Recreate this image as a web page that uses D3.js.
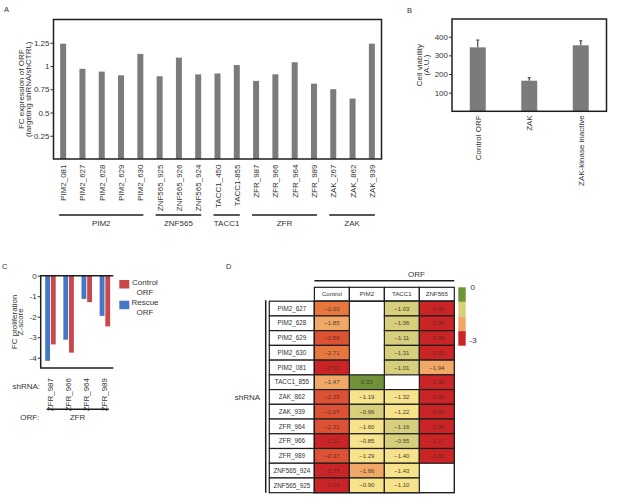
<!DOCTYPE html>
<html><head><meta charset="utf-8">
<script src="https://cdn.jsdelivr.net/npm/d3@7"></script>
<style>body{margin:0;background:#fff} svg{display:block;font-family:"Liberation Sans",Arial,sans-serif}</style>
</head><body><svg id="c" width="617" height="504"></svg>
<script>
// ---------- Panel A data ----------
const aLabels = ["PIM2_081","PIM2_627","PIM2_628","PIM2_629","PIM2_630","ZNF565_925","ZNF565_926","ZNF565_924","TACC1_450","TACC1-855","ZFR_987","ZFR_966","ZFR_964","ZFR_989","ZAK_267","ZAK_862","ZAK_939"];
const aValues = [1.24,0.97,0.94,0.90,1.13,0.89,1.09,0.91,0.92,1.01,0.84,0.91,1.04,0.81,0.75,0.65,1.24];
const aTicks = [0.25,0.5,0.75,1,1.25];
// ---------- Panel B data ----------
const bLabels = ["Control ORF","ZAK","ZAK-kinase inactive"];
const bValues = [343,164,354];
const bUpper = [382,180,378];
const bTicks = [100,200,300,400];
// ---------- Panel C data ----------
const cLabels = ["ZFR_987","ZFR_966","ZFR_964","ZFR_989"];
const cRescue = [-4.15,-3.12,-1.13,-1.96];
const cControl = [-3.35,-3.75,-1.29,-2.47];
const cTicks = [0,-1,-2,-3,-4];
const cSeries = ["Rescue ORF","Control ORF"];
// ---------- Panel D data ----------
const dRows = ["PIM2_627","PIM2_628","PIM2_629","PIM2_630","PIM2_081","TACC1_855","ZAK_862","ZAK_939","ZFR_964","ZFR_966","ZFR_989","ZNF565_924","ZNF565_925"];
const dCols = ["Control","PIM2","TACC1","ZNF565"];
const dControl = [-2.00,-1.85,-2.59,-2.71,-2.92,-1.47,-2.35,-2.07,-2.31,-1.22,-2.37,-2.75,-2.69];
const dPIM2 = [null,null,null,null,null,0.33,-1.19,-0.96,-1.60,-0.85,-1.29,-1.66,-0.90];
const dTACC1 = [-1.03,-1.06,-1.11,-1.31,-1.01,null,-1.32,-1.22,-1.16,-0.55,-1.40,-1.43,-1.10];
const dZNF565 = [-2.45,-2.88,-2.98,-3.25,-1.94,-2.35,-3.06,-2.40,-2.88,-1.17,-2.82,null,null];
// colour level of each cell as it appears in the figure (0 = best ... 6 = worst)
const tControl = [4,3,5,4,6,3,5,5,5,6,5,6,6];
const tPIM2 = [null,null,null,null,null,0,2,1,2,2,2,3,2];
const tTACC1 = [1,1,1,1,1,null,2,2,1,1,2,2,2];
const tZNF565 = [6,6,6,6,3,6,6,6,6,6,6,null,null];
const legendLevels = [0,1,3,6];
const legendLabels = ["0","-3"];

const svg = d3.select("#c");
const ink = "#1e1e1e", txt = "#333";
const fs = 8;

function panelLetter(t,x,y){ svg.append("text").attr("x",x).attr("y",y).attr("font-size",7.5).attr("fill",txt).text(t); }

// ================= Panel A =================
panelLetter("A",4,12);
const A = {l:53.5, r:381.5, t:19.5, b:159};
const ax = d3.scaleBand().domain(aLabels).range([A.l,A.r]).paddingInner(0.69).paddingOuter(0.345);
const ay = d3.scaleLinear().domain([0,1.5]).range([A.b,A.t]);
const gA = svg.append("g");
gA.selectAll("rect.bar").data(aLabels).join("rect").attr("class","bar")
  .attr("x",d=>ax(d)).attr("width",ax.bandwidth())
  .attr("y",(d,i)=>ay(aValues[i])).attr("height",(d,i)=>ay(0)-ay(aValues[i]))
  .attr("fill","#7b7b7b");
const aAxis = gA.append("g").attr("transform",`translate(${A.l},0)`)
  .call(d3.axisLeft(ay).tickValues(aTicks).tickSize(3).tickPadding(1).tickFormat(d=>String(d)));
aAxis.select(".domain").remove();
aAxis.selectAll("text").attr("font-size",fs).attr("fill",txt).attr("font-family",null);
aAxis.selectAll("line").attr("stroke",txt);
gA.append("rect").attr("x",A.l).attr("y",A.t).attr("width",A.r-A.l).attr("height",A.b-A.t)
  .attr("fill","none").attr("stroke",ink).attr("stroke-width",1.5);
gA.selectAll("text.xl").data(aLabels).join("text").attr("class","xl")
  .attr("transform",d=>`translate(${ax(d)+ax.bandwidth()/2+3},${A.b+5.5}) rotate(-90)`)
  .attr("text-anchor","end").attr("font-size",fs).attr("fill",txt).text(d=>d);
const groupOf = d=>d.match(/^[A-Z0-9]+?(?=[_-])/)[0];
const aGroups = Array.from(d3.group(aLabels,groupOf), ([k,v])=>({k,v}));
aGroups.forEach(g=>{
  const x0 = ax(g.v[0])+ax.bandwidth()/2-4, x1 = ax(g.v[g.v.length-1])+ax.bandwidth()/2+3;
  gA.append("line").attr("x1",x0).attr("x2",x1).attr("y1",215).attr("y2",215).attr("stroke",ink).attr("stroke-width",1.5);
  gA.append("text").attr("x",(x0+x1)/2).attr("y",225.5).attr("text-anchor","middle").attr("font-size",fs).attr("fill",txt).text(g.k);
});
const aTitle = gA.append("text").attr("transform",`translate(0,${(A.t+A.b)/2}) rotate(-90)`).attr("text-anchor","middle").attr("font-size",fs).attr("fill",txt);
aTitle.append("tspan").attr("x",0).attr("y",23.5).text("FC expression of ORF");
aTitle.append("tspan").attr("x",0).attr("y",31).text("(targeting shRNA/shCTRL)");

// ================= Panel B =================
panelLetter("B",407,13);
const B = {l:452, r:606.5, t:19, b:111.3};
const bx = d3.scaleBand().domain(bLabels).range([B.l,B.r]).paddingInner(0.69).paddingOuter(0.345);
const by = d3.scaleLinear().domain([0,495]).range([B.b,B.t]);
const gB = svg.append("g");
gB.selectAll("rect.bar").data(bLabels).join("rect").attr("class","bar")
  .attr("x",d=>bx(d)).attr("width",bx.bandwidth())
  .attr("y",(d,i)=>by(bValues[i])).attr("height",(d,i)=>by(0)-by(bValues[i])).attr("fill","#7b7b7b");
gB.selectAll("line.err").data(bLabels).join("line").attr("class","err")
  .attr("x1",d=>bx(d)+bx.bandwidth()/2).attr("x2",d=>bx(d)+bx.bandwidth()/2)
  .attr("y1",(d,i)=>by(bValues[i])).attr("y2",(d,i)=>by(bUpper[i])).attr("stroke","#555").attr("stroke-width",1.3);
gB.selectAll("line.cap").data(bLabels).join("line").attr("class","cap")
  .attr("x1",d=>bx(d)+bx.bandwidth()/2-1.5).attr("x2",d=>bx(d)+bx.bandwidth()/2+1.5)
  .attr("y1",(d,i)=>by(bUpper[i])).attr("y2",(d,i)=>by(bUpper[i])).attr("stroke","#555").attr("stroke-width",1.3);
const bAxis = gB.append("g").attr("transform",`translate(${B.l},0)`)
  .call(d3.axisLeft(by).tickValues(bTicks).tickSize(3).tickPadding(1));
bAxis.select(".domain").remove();
bAxis.selectAll("text").attr("font-size",fs).attr("fill",txt).attr("font-family",null);
bAxis.selectAll("line").attr("stroke",txt);
gB.append("rect").attr("x",B.l).attr("y",B.t).attr("width",B.r-B.l).attr("height",B.b-B.t)
  .attr("fill","none").attr("stroke",ink).attr("stroke-width",1.5);
gB.selectAll("text.xl").data(bLabels).join("text").attr("class","xl")
  .attr("transform",d=>`translate(${bx(d)+bx.bandwidth()/2+3},${B.b+4}) rotate(-90)`)
  .attr("text-anchor","end").attr("font-size",fs).attr("fill",txt).text(d=>d);
const bTitle = gB.append("text").attr("transform",`translate(0,${(B.t+B.b)/2}) rotate(-90)`).attr("text-anchor","middle").attr("font-size",fs).attr("fill",txt);
bTitle.append("tspan").attr("x",0).attr("y",422).text("Cell viability");
bTitle.append("tspan").attr("x",0).attr("y",429).text("(A.U.)");

// ================= Panel C =================
panelLetter("C",2,269);
const C = {l:40.7, r:113.3, t:275.7, b:368};
const cx = d3.scaleBand().domain(cLabels).range([C.l,C.r]);
const cInner = d3.scaleBand().domain(cSeries).range([4.5,15]).paddingInner(0.15);
const cy = d3.scaleLinear().domain([-4.5,0]).range([C.b,C.t]);
const cColor = d3.scaleOrdinal().domain(cSeries).range(["#4677c4","#c9484b"]);
const cData = cLabels.flatMap((l,i)=>[{l,s:"Rescue ORF",v:cRescue[i]},{l,s:"Control ORF",v:cControl[i]}]);
const gC = svg.append("g");
gC.selectAll("rect.bar").data(cData).join("rect").attr("class","bar")
  .attr("x",d=>cx(d.l)+cInner(d.s)).attr("width",cInner.bandwidth())
  .attr("y",cy(0)).attr("height",d=>cy(d.v)-cy(0)).attr("fill",d=>cColor(d.s));
const cAxis = gC.append("g").attr("transform",`translate(${C.l},0)`)
  .call(d3.axisLeft(cy).tickValues(cTicks).tickSize(3).tickPadding(1).tickFormat(d=>String(d)));
cAxis.select(".domain").remove();
cAxis.selectAll("text").attr("font-size",fs).attr("fill",txt).attr("font-family",null);
cAxis.selectAll("line").attr("stroke",txt);
gC.append("path").attr("d",`M${C.r},${C.t}H${C.l}V${C.b}H${C.r}`).attr("fill","none").attr("stroke",ink).attr("stroke-width",1.5);
gC.selectAll("text.xl").data(cLabels).join("text").attr("class","xl")
  .attr("transform",d=>`translate(${cx(d)+cx.bandwidth()/2+3},${C.b+10}) rotate(-90)`)
  .attr("text-anchor","end").attr("font-size",fs).attr("fill",txt).text(d=>d);
gC.append("text").attr("x",40).attr("y",389).attr("text-anchor","end").attr("font-size",fs).attr("fill",txt).text("shRNA:");
gC.append("text").attr("x",39.3).attr("y",419.5).attr("text-anchor","end").attr("font-size",fs).attr("fill",txt).text("ORF:");
gC.append("line").attr("x1",cx(cLabels[0])+6).attr("x2",cx(cLabels[3])+cx.bandwidth()-4.5).attr("y1",409.3).attr("y2",409.3).attr("stroke",ink).attr("stroke-width",1.5);
gC.append("text").attr("x",(C.l+C.r)/2+0.5).attr("y",419.5).attr("text-anchor","middle").attr("font-size",fs).attr("fill",txt).text(groupOf(cLabels[0]));
const cTitle = gC.append("text").attr("transform",`translate(0,${(C.t+C.b)/2}) rotate(-90)`).attr("text-anchor","middle").attr("font-size",fs).attr("fill",txt);
cTitle.append("tspan").attr("x",0).attr("y",16.5).text("FC proliferation");
cTitle.append("tspan").attr("x",0).attr("y",23).text("Z-score");
// legend
const legOrder = ["Control ORF","Rescue ORF"];
legOrder.forEach((s,i)=>{
  const y0 = 280 + i*20.7;
  gC.append("rect").attr("x",119.3).attr("y",y0).attr("width",10).attr("height",8.5).attr("fill",cColor(s));
  const parts = s.split(" ");
  gC.append("text").attr("x",145).attr("y",y0+4.5).attr("text-anchor","middle").attr("font-size",fs).attr("fill",txt).text(parts[0]);
  gC.append("text").attr("x",145).attr("y",y0+14.5).attr("text-anchor","middle").attr("font-size",fs).attr("fill",txt).text(parts[1]);
});

// ================= Panel D =================
panelLetter("D",226,269);
const D = {lab0:269.3, l:314.4, r:454.3, ht:287.3, t:301.2, b:492.7};
const dx = d3.scaleBand().domain(dCols).range([D.l,D.r]);
const dy = d3.scaleBand().domain(dRows).range([D.t,D.b]);
const palette = ["#6f9339","#d6d07c","#f6e38c","#f1a866","#e8763f","#dd5234","#cb2426"];
const dColor = d3.scaleOrdinal().domain(d3.range(palette.length)).range(palette);
const colVals = {Control:dControl, PIM2:dPIM2, TACC1:dTACC1, ZNF565:dZNF565};
const colTiers = {Control:tControl, PIM2:tPIM2, TACC1:tTACC1, ZNF565:tZNF565};
const cells = dCols.flatMap(c=>dRows.map((r,i)=>({c,r,v:colVals[c][i],t:colTiers[c][i]}))).filter(d=>d.v!==null);
const gD = svg.append("g");
// ORF header
gD.append("line").attr("x1",D.l).attr("x2",D.r).attr("y1",280.7).attr("y2",280.7).attr("stroke",ink).attr("stroke-width",1.5);
gD.append("text").attr("x",416.5).attr("y",277).attr("text-anchor","middle").attr("font-size",fs).attr("fill",txt).text("ORF");
gD.selectAll("rect.hd").data(dCols).join("rect").attr("class","hd")
  .attr("x",d=>dx(d)).attr("y",D.ht).attr("width",dx.bandwidth()).attr("height",D.t-D.ht)
  .attr("fill","#fff").attr("stroke",ink).attr("stroke-width",1.2);
gD.selectAll("text.hd").data(dCols).join("text").attr("class","hd")
  .attr("x",d=>dx(d)+dx.bandwidth()/2).attr("y",(D.ht+D.t)/2+2.2).attr("text-anchor","middle")
  .attr("font-size",6.2).attr("fill",txt).text(d=>d);
// row labels
gD.selectAll("rect.rl").data(dRows).join("rect").attr("class","rl")
  .attr("x",D.lab0).attr("y",d=>dy(d)).attr("width",D.l-D.lab0).attr("height",dy.bandwidth())
  .attr("fill","#fff").attr("stroke",ink).attr("stroke-width",1.2);
gD.selectAll("text.rl").data(dRows).join("text").attr("class","rl")
  .attr("x",(D.lab0+D.l)/2).attr("y",d=>dy(d)+dy.bandwidth()/2+2.2).attr("text-anchor","middle")
  .attr("font-size",6.3).attr("fill",txt).text(d=>d);
// outer frame of data area
gD.append("rect").attr("x",D.l).attr("y",D.t).attr("width",D.r-D.l).attr("height",D.b-D.t)
  .attr("fill","none").attr("stroke",ink).attr("stroke-width",1.4);
// cells
gD.selectAll("rect.cell").data(cells).join("rect").attr("class","cell")
  .attr("x",d=>dx(d.c)).attr("y",d=>dy(d.r)).attr("width",dx.bandwidth()).attr("height",dy.bandwidth())
  .attr("fill",d=>dColor(d.t)).attr("stroke",ink).attr("stroke-width",1.2);
gD.selectAll("text.cell").data(cells).join("text").attr("class","cell")
  .attr("x",d=>dx(d.c)+dx.bandwidth()/2).attr("y",d=>dy(d.r)+dy.bandwidth()/2+2.1).attr("text-anchor","middle")
  .attr("font-size",6).attr("fill",d=>d.t>=5?"#6b2a22":"#4a4030").text(d=>d3.format(".2f")(d.v));
// left bracket and shRNA label
gD.append("line").attr("x1",265.7).attr("x2",265.7).attr("y1",D.t-1).attr("y2",D.b).attr("stroke",ink).attr("stroke-width",1.5);
gD.append("text").attr("x",247.5).attr("y",400).attr("text-anchor","middle").attr("font-size",fs).attr("fill",txt).text("shRNA");
// colour legend
const ly = d3.scaleBand().domain(legendLevels).range([287.3,345.7]);
gD.selectAll("rect.lg").data(legendLevels).join("rect").attr("class","lg")
  .attr("x",458.3).attr("y",d=>ly(d)).attr("width",7.4).attr("height",ly.bandwidth()).attr("fill",d=>dColor(d));
gD.append("text").attr("x",470.5).attr("y",290).attr("font-size",fs).attr("fill",txt).text(legendLabels[0]);
gD.append("text").attr("x",469.5).attr("y",343).attr("font-size",fs).attr("fill",txt).text(legendLabels[1]);
</script></body></html>
